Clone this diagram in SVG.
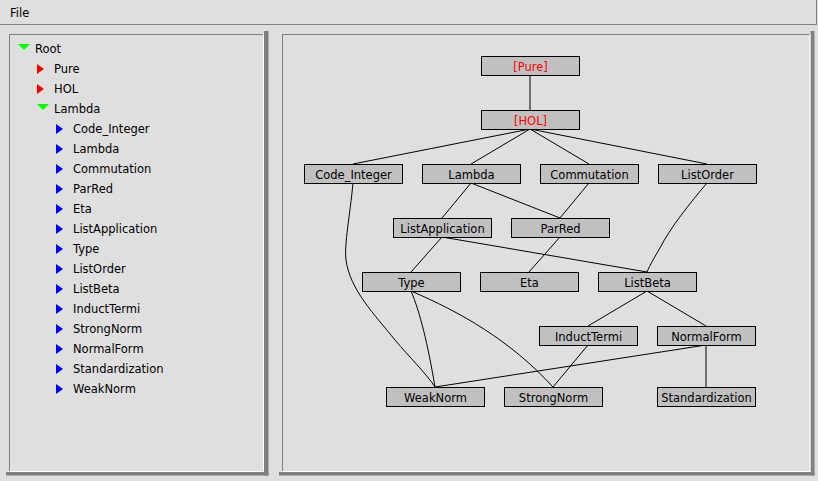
<svg xmlns="http://www.w3.org/2000/svg" width="818" height="481" viewBox="0 0 818 481">
<style>
text{font-family:"DejaVu Sans","Verdana",sans-serif;font-size:11.5px;fill:#000}
.lbl{text-anchor:middle}
.red{fill:#ff0000}
.node rect{fill:#c0c0c0;stroke:#000;stroke-width:1}
#connectors path{fill:none;stroke:#000;stroke-width:1}
.sh{fill:#808080}
.gl{stroke:#808080;stroke-width:1;fill:none}
.wl{stroke:#ffffff;stroke-width:1;fill:none}
</style>
<rect x="0" y="0" width="818" height="481" fill="#dfdfdf"/>
<!-- menu bar -->
<g id="menubar">
<line class="gl" x1="0" y1="24.5" x2="817" y2="24.5"/>
<line class="gl" x1="816.5" y1="0" x2="816.5" y2="25"/>
<text x="10" y="17">File</text>
</g>
<!-- left panel -->
<g id="tree-panel">
<rect class="sh" x="264" y="31" width="4.5" height="444.5"/>
<rect class="sh" x="6" y="472" width="262.5" height="3.5"/>
<line class="gl" x1="9.5" y1="34" x2="9.5" y2="471"/>
<line class="gl" x1="9" y1="34.5" x2="263" y2="34.5"/>
<line class="wl" x1="263.5" y1="34" x2="263.5" y2="471.5"/>
<line class="wl" x1="9" y1="471.5" x2="264" y2="471.5"/>
<polygon fill="#00ff00" points="18,44 30,44 24,50"/>
<text x="35" y="52.5">Root</text>
<polygon fill="#ff0000" points="37,64 37,74 44,69"/>
<text x="54" y="72.5">Pure</text>
<polygon fill="#ff0000" points="37,84 37,94 44,89"/>
<text x="54" y="92.5">HOL</text>
<polygon fill="#00ff00" points="37,104 49,104 43,110"/>
<text x="54" y="112.5">Lambda</text>
<g fill="#0000ff">
<polygon points="56,124 56,134 63,129"/>
<polygon points="56,144 56,154 63,149"/>
<polygon points="56,164 56,174 63,169"/>
<polygon points="56,184 56,194 63,189"/>
<polygon points="56,204 56,214 63,209"/>
<polygon points="56,224 56,234 63,229"/>
<polygon points="56,244 56,254 63,249"/>
<polygon points="56,264 56,274 63,269"/>
<polygon points="56,284 56,294 63,289"/>
<polygon points="56,304 56,314 63,309"/>
<polygon points="56,324 56,334 63,329"/>
<polygon points="56,344 56,354 63,349"/>
<polygon points="56,364 56,374 63,369"/>
<polygon points="56,384 56,394 63,389"/>
</g>
<text x="73" y="132.5">Code_Integer</text>
<text x="73" y="152.5">Lambda</text>
<text x="73" y="172.5">Commutation</text>
<text x="73" y="192.5">ParRed</text>
<text x="73" y="212.5">Eta</text>
<text x="73" y="232.5">ListApplication</text>
<text x="73" y="252.5">Type</text>
<text x="73" y="272.5">ListOrder</text>
<text x="73" y="292.5">ListBeta</text>
<text x="73" y="312.5">InductTermi</text>
<text x="73" y="332.5">StrongNorm</text>
<text x="73" y="352.5">NormalForm</text>
<text x="73" y="372.5">Standardization</text>
<text x="73" y="392.5">WeakNorm</text>
</g>
<!-- right panel -->
<g id="graph-panel">
<rect class="sh" x="810.5" y="31" width="4" height="444.5"/>
<rect class="sh" x="279" y="472" width="535.5" height="3.5"/>
<line class="gl" x1="282.5" y1="34" x2="282.5" y2="471"/>
<line class="gl" x1="282" y1="34.5" x2="810" y2="34.5"/>
<line class="wl" x1="810" y1="34" x2="810" y2="471.5"/>
<line class="wl" x1="282" y1="471.5" x2="810.5" y2="471.5"/>
</g>
<g id="connectors">
<path d="M530,75 L530,110"/>
<path d="M530,129 L353,164"/>
<path d="M530,129 L471,164"/>
<path d="M530,129 L589,164"/>
<path d="M530,129 L707,164"/>
<path d="M471,183 L442,218"/>
<path d="M471,183 L560,218"/>
<path d="M589,183 L560,218"/>
<path d="M707,183 C690,203 670,228 660,248 C654,258 650,265 647,272"/>
<path d="M353,183 C350,215 344,245 346,260 C350,290 375,315 395,340 C410,358 425,372 435,387"/>
<path d="M442,237 L411,272"/>
<path d="M442,237 L647,272"/>
<path d="M560,237 L529,272"/>
<path d="M411,291 C420,312 428,345 435,387"/>
<path d="M411,291 C460,312 510,340 553,387"/>
<path d="M647,291 L588,326"/>
<path d="M647,291 L706,326"/>
<path d="M588,345 L553,387"/>
<path d="M706,345 L435,387"/>
<path d="M706,345 L706,387"/>
</g>
<g id="node-pure" class="node"><rect x="481.5" y="56.5" width="98" height="19"/><text class="lbl red" x="530.5" y="70.5">[Pure]</text></g>
<g id="node-hol" class="node"><rect x="481.5" y="110.5" width="98" height="19"/><text class="lbl red" x="530.5" y="124.5">[HOL]</text></g>
<g id="node-code-integer" class="node"><rect x="304.5" y="164.5" width="98" height="19"/><text class="lbl" x="353.5" y="178.5">Code_Integer</text></g>
<g id="node-lambda" class="node"><rect x="422.5" y="164.5" width="98" height="19"/><text class="lbl" x="471.5" y="178.5">Lambda</text></g>
<g id="node-commutation" class="node"><rect x="540.5" y="164.5" width="98" height="19"/><text class="lbl" x="589.5" y="178.5">Commutation</text></g>
<g id="node-listorder" class="node"><rect x="658.5" y="164.5" width="98" height="19"/><text class="lbl" x="707.5" y="178.5">ListOrder</text></g>
<g id="node-listapplication" class="node"><rect x="393.5" y="218.5" width="98" height="19"/><text class="lbl" x="442.5" y="232.5">ListApplication</text></g>
<g id="node-parred" class="node"><rect x="511.5" y="218.5" width="98" height="19"/><text class="lbl" x="560.5" y="232.5">ParRed</text></g>
<g id="node-type" class="node"><rect x="362.5" y="272.5" width="98" height="19"/><text class="lbl" x="411.5" y="286.5">Type</text></g>
<g id="node-eta" class="node"><rect x="480.5" y="272.5" width="98" height="19"/><text class="lbl" x="529.5" y="286.5">Eta</text></g>
<g id="node-listbeta" class="node"><rect x="598.5" y="272.5" width="98" height="19"/><text class="lbl" x="647.5" y="286.5">ListBeta</text></g>
<g id="node-inducttermi" class="node"><rect x="539.5" y="326.5" width="98" height="19"/><text class="lbl" x="588.5" y="340.5">InductTermi</text></g>
<g id="node-normalform" class="node"><rect x="657.5" y="326.5" width="98" height="19"/><text class="lbl" x="706.5" y="340.5">NormalForm</text></g>
<g id="node-weaknorm" class="node"><rect x="386.5" y="387.5" width="98" height="19"/><text class="lbl" x="435.5" y="401.5">WeakNorm</text></g>
<g id="node-strongnorm" class="node"><rect x="504.5" y="387.5" width="98" height="19"/><text class="lbl" x="553.5" y="401.5">StrongNorm</text></g>
<g id="node-standardization" class="node"><rect x="657.5" y="387.5" width="98" height="19"/><text class="lbl" x="706.5" y="401.5">Standardization</text></g>
</svg>
